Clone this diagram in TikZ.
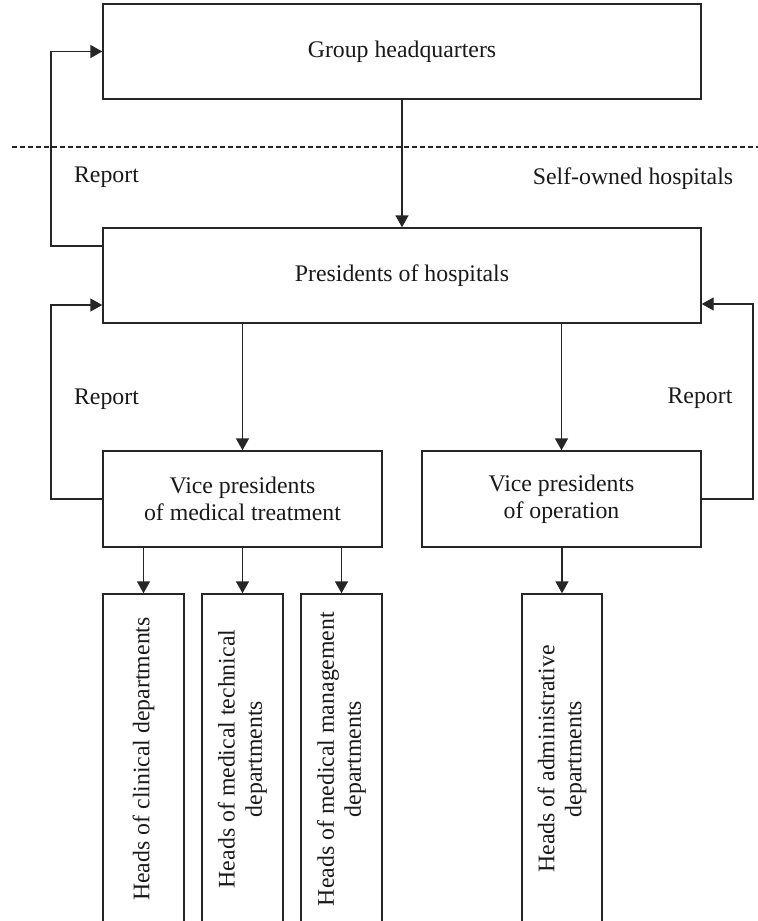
\documentclass[tikz,border=0pt]{standalone}
\usepackage{fontspec}
\setmainfont{Liberation Serif}
\usetikzlibrary{arrows.meta,positioning}
\tikzset{
    box/.style={draw=black!85, line width=0.7pt, align=center, inner sep=0pt, text=black!90},
    wide/.style={box, minimum width=299pt, minimum height=47.5pt},
    vice/.style={box, minimum width=139.5pt, minimum height=48pt},
    heads/.style={box, rotate=90, minimum width=165pt, minimum height=40.5pt},
    arr/.style={draw=black!85, line width=0.7pt, -{Triangle[length=6pt,width=6.5pt]}},
    link/.style={draw=black!85, line width=0.7pt},
    tag/.style={text=black!90, inner sep=0pt},
}
\begin{document}
\begin{tikzpicture}[x=0.5pt, y=-0.5pt, font=\fontsize{11.9}{13.6}\selectfont]
    \useasboundingbox (0,0) rectangle (758,921);
    \clip (0,0) rectangle (758,921);

    % top levels
    \node[wide] (hq) at (402,51.5) {Group headquarters};
    \node[wide] (pres) at (402,275.5) {Presidents of hospitals};

    % vice presidents
    \node[vice] (vpm) at (242.5,499) {Vice presidents\\of medical treatment};
    \node[vice] (vpo) at (561.5,499) {Vice presidents\\of operation};

    % heads of departments
    \node[heads] (clin) at (143.5,759) {Heads of clinical departments};
    \node[heads] (tech) at (242.5,759) {Heads of medical technical\\departments};
    \node[heads] (mgmt) at (341.5,759) {Heads of medical management\\departments};
    \node[heads, minimum height=40pt] (admin) at (562,759) {Heads of administrative\\departments};

    % boundary of the group
    \draw[link, dash pattern=on 2.5pt off 1.5pt] (12,147) -- (758,147);
    \node[tag] (rep1) at (106.5,177) {Report};
    \node[tag] (self) at (633,179) {Self-owned hospitals};
    \node[tag] (rep2) at (106.5,399) {Report};
    \node[tag] (rep3) at (700,398) {Report};

    % downward lines
    \draw[arr] (hq) -- (pres);
    \draw[arr] (pres.south -| vpm.north) -- (vpm.north);
    \draw[arr] (pres.south -| vpo.north) -- (vpo.north);
    \draw[arr] (vpm.south -| clin.east) -- (clin.east);
    \draw[arr] (vpm.south -| tech.east) -- (tech.east);
    \draw[arr] (vpm.south -| mgmt.east) -- (mgmt.east);
    \draw[arr] (vpo.south -| admin.east) -- (admin.east);

    % report loops
    \coordinate (lp1) at (51,246);
    \coordinate (lp2) at (51,305);
    \coordinate (rp) at (753,304);
    \draw[arr] (pres.west |- lp1) -- (lp1) |- (hq.west);
    \draw[arr] (vpm.west) -| (lp2) -- (pres.west |- lp2);
    \draw[arr] (vpo.east) -| (rp) -- (pres.east |- rp);
\end{tikzpicture}
\end{document}
